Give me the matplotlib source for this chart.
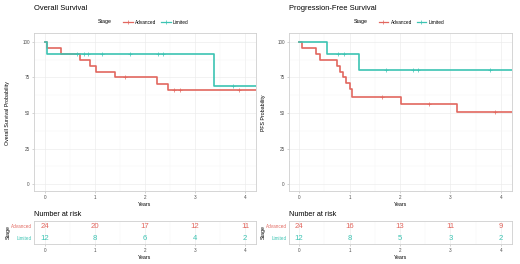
import numpy as np
import matplotlib
matplotlib.use('Agg')
import matplotlib.pyplot as plt
from matplotlib.lines import Line2D
from matplotlib.ticker import MultipleLocator

plt.rcParams['font.family'] = ['Liberation Sans', 'DejaVu Sans']

RED = '#E2675F'
TEAL = '#3CC4B3'
GRID = '#EBEBEB'
BORDER = '#CFCFCF'
TICKTXT = '#4D4D4D'

# ---- Overall survival (event times in years, survival in %) ----
os_adv_time = [0, 0.03, 0.32, 0.69, 0.90, 1.01, 1.40, 2.23, 2.45]
os_adv_surv = [100, 95.8, 91.7, 87.5, 83.3, 79.2, 75.0, 70.6, 66.2]
os_adv_cens = [1.60, 2.57, 2.69, 3.87]
os_lim_time = [0, 0.03, 3.37]
os_lim_surv = [100, 91.7, 68.8]
os_lim_cens = [0.63, 0.77, 0.85, 1.13, 1.70, 2.25, 2.35, 3.75]
os_end = 4.22

# ---- Progression-free survival ----
pfs_adv_time = [0, 0.05, 0.34, 0.42, 0.75, 0.81, 0.87, 0.93, 1.00, 1.05, 2.02, 3.12]
pfs_adv_surv = [100, 95.8, 91.7, 87.5, 83.3, 79.2, 75.0, 70.8, 66.6, 61.5, 56.1, 51.0]
pfs_adv_cens = [1.64, 2.58, 3.88]
pfs_lim_time = [0, 0.55, 1.18]
pfs_lim_surv = [100, 91.7, 80.2]
pfs_lim_cens = [0.78, 0.90, 1.72, 2.26, 2.36, 3.78]
pfs_end = 4.22

# ---- Number at risk ----
risk_years = [0, 1, 2, 3, 4]
os_adv_risk = [24, 20, 17, 12, 11]
os_lim_risk = [12, 8, 6, 4, 2]
pfs_adv_risk = [24, 16, 13, 11, 9]
pfs_lim_risk = [12, 8, 5, 3, 2]

W, H = 520, 264
fig = plt.figure(figsize=(W / 100, H / 100), dpi=100)


def px_axes(x0, y0, x1, y1):
    return fig.add_axes([x0 / W, 1 - y1 / H, (x1 - x0) / W, (y1 - y0) / H])


def style(ax):
    for s in ax.spines.values():
        s.set_color(BORDER)
        s.set_linewidth(0.6)
    ax.tick_params(which='major', length=1.5, width=0.4, color='#B3B3B3',
                   labelsize=3.3, labelcolor=TICKTXT, pad=1.5)
    ax.tick_params(which='minor', length=0)
    ax.grid(True, which='major', color=GRID, lw=0.45)
    ax.grid(True, which='minor', color='#F4F4F4', lw=0.3)
    ax.set_axisbelow(True)


def km(ax, times, surv, cens, end, color):
    x = list(times) + [end]
    y = list(surv) + [surv[-1]]
    ax.step(x, y, where='post', color=color, lw=1.2)
    idx = np.searchsorted(times, cens, side='right') - 1
    ax.plot(cens, np.array(surv)[idx], ls='none', marker='+', ms=3,
            mew=0.5, color=color)


def panel(x0, x1, xmin, title, ylabel, ylab_x, curves, end, adv_risk, lim_risk):
    ax = px_axes(x0, 33, x1, 191)
    style(ax)
    for t, s, c, col in curves:
        km(ax, t, s, c, end, col)
    ax.set_xlim(xmin, end)
    ax.set_ylim(-4.9, 106.3)
    ax.set_xticks(risk_years)
    ax.set_yticks([0, 25, 50, 75, 100])
    ax.xaxis.set_minor_locator(MultipleLocator(0.5))
    ax.yaxis.set_minor_locator(MultipleLocator(12.5))
    ax.set_xlabel('Years', fontsize=3.8, labelpad=1)
    fig.text(ylab_x / W, 1 - 113 / H, ylabel, rotation=90, fontsize=3.8,
             ha='center', va='center')
    fig.text(x0 / W, 1 - 9 / H, title, fontsize=5.4, ha='left', va='center')

    # legend
    cx = (x0 + x1) / 2
    handles = [Line2D([], [], color=RED, lw=0.9, marker='+', ms=2.5, mew=0.5),
               Line2D([], [], color=TEAL, lw=0.9, marker='+', ms=2.5, mew=0.5)]
    fig.legend(handles, ['Advanced', 'Limited'], loc='center',
               bbox_to_anchor=((cx + 11) / W, 1 - 22 / H), ncol=2,
               frameon=False, fontsize=3.4, handlelength=2.0,
               columnspacing=1.0, handletextpad=0.5)
    fig.text((cx - 40) / W, 1 - 22 / H, 'Stage', fontsize=3.8,
             ha='center', va='center')

    # risk table
    rt = px_axes(x0, 221, x1, 244)
    style(rt)
    rt.set_xlim(xmin, end)
    rt.set_ylim(-0.5, 1.5)
    rt.set_xticks(risk_years)
    rt.set_yticks([])
    rt.xaxis.set_minor_locator(MultipleLocator(0.5))
    rt.grid(False, axis='y')
    for yr, a, l in zip(risk_years, adv_risk, lim_risk):
        rt.text(yr, 1, str(a), color=RED, fontsize=5.6, ha='center', va='center')
        rt.text(yr, 0, str(l), color=TEAL, fontsize=5.6, ha='center', va='center')
    rt.set_xlabel('Years', fontsize=3.8, labelpad=1)
    fig.text((x0 - 2) / W, 1 - 226 / H, 'Advanced', color=RED, fontsize=3.3,
             ha='right', va='center')
    fig.text((x0 - 2) / W, 1 - 238 / H, 'Limited', color=TEAL, fontsize=3.3,
             ha='right', va='center')
    fig.text(ylab_x / W, 1 - 232 / H, 'Stage', rotation=90, fontsize=3.8,
             ha='center', va='center')
    fig.text(x0 / W, 1 - 214 / H, 'Number at risk', fontsize=5.2,
             ha='left', va='center')


panel(34, 256, -0.22, 'Overall Survival', 'Overall Survival Probability', 8,
      [(os_adv_time, os_adv_surv, os_adv_cens, RED),
       (os_lim_time, os_lim_surv, os_lim_cens, TEAL)],
      os_end, os_adv_risk, os_lim_risk)

panel(289, 512, -0.2, 'Progression-Free Survival', 'PFS Probability', 263,
      [(pfs_adv_time, pfs_adv_surv, pfs_adv_cens, RED),
       (pfs_lim_time, pfs_lim_surv, pfs_lim_cens, TEAL)],
      pfs_end, pfs_adv_risk, pfs_lim_risk)

fig.savefig('out.png', dpi=100)
